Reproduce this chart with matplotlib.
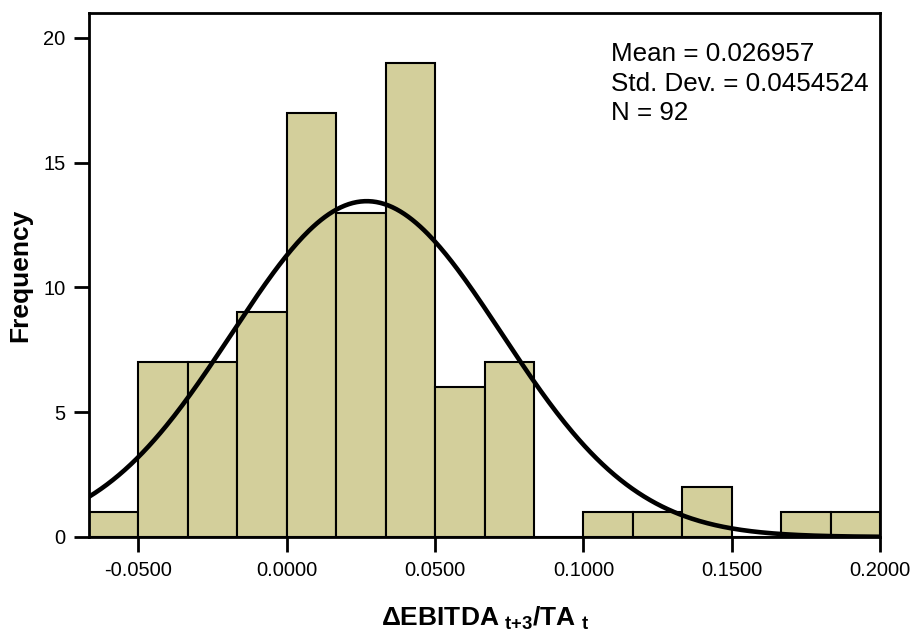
import numpy as np
import matplotlib.pyplot as plt

plt.rcParams['font.family'] = ['Liberation Sans', 'DejaVu Sans']
plt.rcParams['mathtext.fontset'] = 'custom'
plt.rcParams['mathtext.rm'] = 'Liberation Sans'
plt.rcParams['mathtext.bf'] = 'Liberation Sans:bold'

# bin edges (width 1/60) and counts
bin_left = -0.0666667
bin_width = 1 / 60
counts = [1, 7, 7, 9, 17, 13, 19, 6, 7, 0, 1, 1, 2, 0, 1, 1]

mean = 0.026957
std = 0.0454524
n = 92

xticks = [-0.05, 0.0, 0.05, 0.10, 0.15, 0.20]
yticks = [0, 5, 10, 15, 20]

edges = bin_left + bin_width * np.arange(len(counts) + 1)

fig = plt.figure(figsize=(9.16, 6.37), dpi=100)
ax = fig.add_axes([0.0972, 0.157, 0.8635, 0.8226])

ax.bar(edges[:-1], counts, width=bin_width, align='edge',
       color='#d3cf9b', edgecolor='black', linewidth=1.5, zorder=2)

# fitted normal curve from the stated mean / sd / N
xs = np.linspace(edges[0], edges[-1], 400)
ys = n * bin_width / (std * np.sqrt(2 * np.pi)) * np.exp(-0.5 * ((xs - mean) / std) ** 2)
ax.plot(xs, ys, color='black', linewidth=3.3, zorder=3)

ax.set_xlim(edges[0], edges[-1])
ax.set_ylim(0, 21)
ax.set_xticks(xticks)
ax.set_xticklabels([f'{v:.4f}' for v in xticks])
ax.set_yticks(yticks)
ax.tick_params(axis='both', direction='out', length=11, width=2, labelsize=14.5, pad=6)

for s in ax.spines.values():
    s.set_linewidth(2)

ax.set_ylabel('Frequency', fontsize=19, fontweight='bold', labelpad=8)
ax.set_xlabel(r'$\mathbf{\Delta EBITDA}_{\mathbf{\ t{+}3}}\mathbf{/TA}_{\mathbf{\ t}}$',
              fontsize=19, labelpad=18)

ax.text(0.66, 0.945, f'Mean = {mean}\nStd. Dev. = {std}\nN = {n}',
        transform=ax.transAxes, fontsize=18.7, va='top', ha='left', linespacing=1.3)

fig.savefig('out.png', dpi=100)
